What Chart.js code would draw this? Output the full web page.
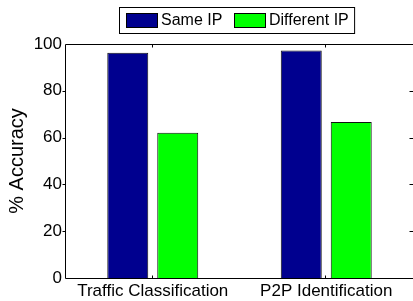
<!DOCTYPE html>
<html>
<head>
<meta charset="utf-8">
<script src="https://cdn.jsdelivr.net/npm/chart.js@4.4.0/dist/chart.umd.min.js"></script>
<style>
  html, body { margin: 0; padding: 0; background: #fff; }
  #wrap { width: 413px; height: 301px; position: relative; }
</style>
</head>
<body>
<div id="wrap"><canvas id="c" width="413" height="301"></canvas></div>
<script>
const categories = ["Traffic Classification", "P2P Identification"];
const seriesNames = ["Same IP", "Different IP"];
const sameIP = [96.3, 97.2];
const differentIP = [62.1, 66.7];
const yTicks = [0, 20, 40, 60, 80, 100];
const yTitle = "% Accuracy";

const FONT = "'Liberation Sans', Arial, Helvetica, sans-serif";

const framePlugin = {
  id: 'frame',
  afterDatasetsDraw(chart) {
    const ctx = chart.ctx;
    const a = chart.chartArea;
    const xs = chart.scales.x, ys = chart.scales.y;
    ctx.save();
    ctx.strokeStyle = '#000';
    ctx.lineWidth = 1;
    ctx.beginPath();
    const L = Math.round(a.left) - 0.5, R = Math.round(a.right) + 0.5;
    const T = Math.round(a.top) + 0.5, B = Math.round(a.bottom) + 0.5;
    ctx.moveTo(L, T); ctx.lineTo(R, T); ctx.lineTo(R, B); ctx.lineTo(L, B); ctx.closePath();
    ctx.stroke();
    yTicks.forEach(v => {
      if (v === 0 || v === 100) return;
      const y = Math.round(ys.getPixelForValue(v)) + 0.5;
      ctx.beginPath();
      ctx.moveTo(L - 3, y); ctx.lineTo(L, y);
      ctx.moveTo(R - 4, y); ctx.lineTo(R, y);
      ctx.stroke();
    });
    categories.forEach((c, i) => {
      const x = Math.round(xs.getPixelForValue(i)) - 0.5;
      ctx.beginPath();
      ctx.moveTo(x, T); ctx.lineTo(x, T + 3);
      ctx.moveTo(x, B); ctx.lineTo(x, B - 3);
      ctx.stroke();
    });
    ctx.restore();
  },
  afterDraw(chart) {
    const ctx = chart.ctx;
    ctx.save();
    ctx.font = "16px " + FONT;
    ctx.textBaseline = 'middle';
    const boxL = 119.5, boxT = 7.5, boxH = 26;
    let x = boxL + 6;
    const items = chart.data.datasets.map(ds => ({label: ds.label, color: ds.backgroundColor}));
    const positions = [];
    items.forEach((it, i) => {
      positions.push(x);
      x += 32 + 3 + ctx.measureText(it.label).width + (i < items.length - 1 ? 12 : 6);
    });
    const boxW = x - boxL;
    ctx.fillStyle = '#fff';
    ctx.fillRect(boxL, boxT, boxW, boxH);
    ctx.strokeStyle = '#000';
    ctx.lineWidth = 1;
    ctx.strokeRect(boxL, boxT, boxW, boxH);
    items.forEach((it, i) => {
      const px = Math.round(positions[i]);
      ctx.fillStyle = it.color;
      ctx.fillRect(px, 13, 32, 15);
      ctx.strokeStyle = '#000';
      ctx.strokeRect(px + 0.5, 13.5, 31, 14);
      ctx.fillStyle = '#000';
      ctx.fillText(it.label, px + 35, 21);
    });
    ctx.restore();
  }
};

new Chart(document.getElementById('c'), {
  type: 'bar',
  data: {
    labels: categories,
    datasets: [
      { label: seriesNames[0], data: sameIP, backgroundColor: '#00008F', borderColor: '#111', borderWidth: 1 },
      { label: seriesNames[1], data: differentIP, backgroundColor: '#00FF00', borderColor: '#111', borderWidth: 1 }
    ]
  },
  options: {
    responsive: false,
    animation: false,
    devicePixelRatio: 1,
    layout: { padding: { top: 44, right: 0, bottom: 0, left: 0 } },
    plugins: { legend: { display: false }, tooltip: { enabled: false }, title: { display: false } },
    datasets: { bar: { categoryPercentage: 0.576, barPercentage: 0.82 } },
    scales: {
      x: {
        grid: { display: false, drawTicks: false },
        border: { display: false },
        ticks: { color: '#000', font: { family: FONT, size: 17 }, padding: 3, maxRotation: 0, autoSkip: false },
        afterFit(s) { s.height = 23; }
      },
      y: {
        min: 0, max: 100,
        grid: { display: false, drawTicks: false },
        border: { display: false },
        afterBuildTicks(s) { s.ticks = yTicks.map(v => ({ value: v })); },
        ticks: { color: '#000', font: { family: FONT, size: 17 }, padding: 4 },
        title: { display: true, text: yTitle, color: '#000', font: { family: FONT, size: 20 }, padding: { top: 5, bottom: 0 } },
        afterFit(s) { s.width = 66; }
      }
    }
  },
  plugins: [framePlugin]
});
</script>
</body>
</html>
